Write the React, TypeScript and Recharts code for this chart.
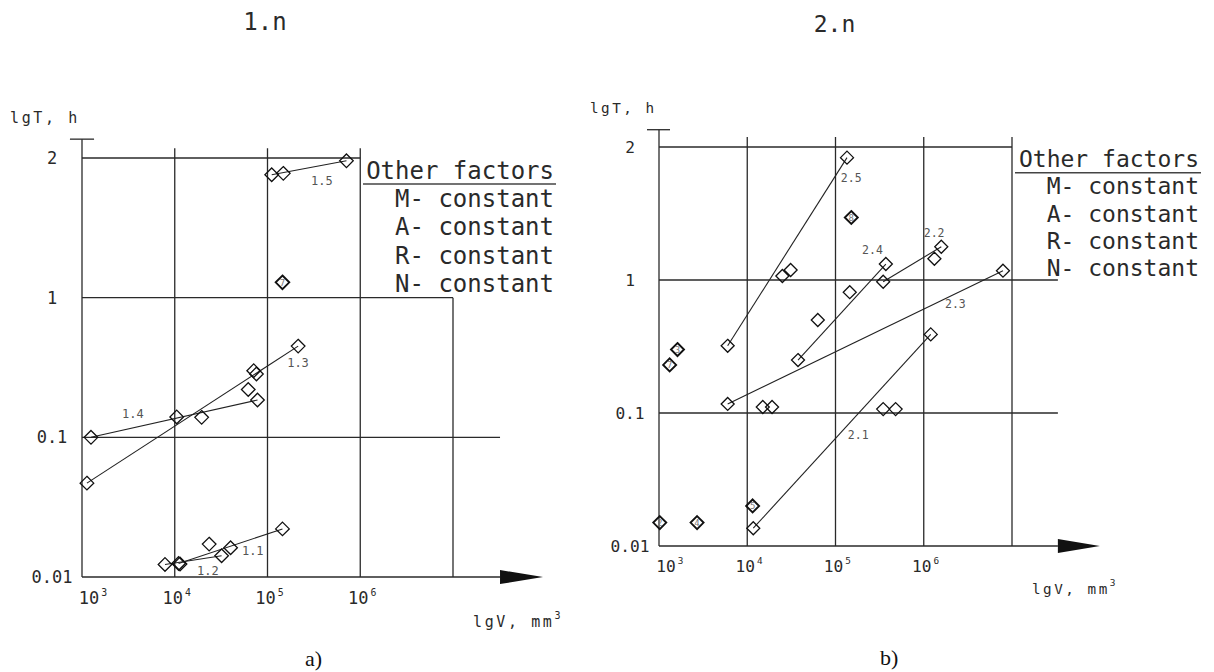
import React from 'react';
import { ScatterChart, Scatter, XAxis, YAxis, ReferenceLine, ReferenceDot } from 'recharts';

type Pt = { v: number; t: number; tag?: string };
type Lbl = { name: string; v: number; t: number };

// axis ticks
const xTicks = [1e3, 1e4, 1e5, 1e6];
const yTicks = [0, 1, 2, 3];
const yTickLabels = ['0.01', '0.1', '1', '2'];
const legendRows = ['M- constant', 'A- constant', 'R- constant', 'N- constant'];

// panel a) 1.n  (v = V, mm3; t = T, h)
const s11: Pt[] = [
  { v: 11000, t: 0.0125 },
  { v: 23500, t: 0.0172 },
  { v: 40000, t: 0.0162 },
  { v: 145000, t: 0.0221 },
];
const s12: Pt[] = [
  { v: 7850, t: 0.0123 },
  { v: 11400, t: 0.0124 },
  { v: 32000, t: 0.0142 },
];
const s13: Pt[] = [
  { v: 1130, t: 0.047 },
  { v: 62000, t: 0.22 },
  { v: 71000, t: 0.3 },
  { v: 76000, t: 0.284 },
  { v: 214000, t: 0.45 },
];
const s14: Pt[] = [
  { v: 1250, t: 0.1 },
  { v: 10500, t: 0.14 },
  { v: 19500, t: 0.139 },
  { v: 78000, t: 0.185 },
];
const s15: Pt[] = [
  { v: 111000, t: 1.88 },
  { v: 148000, t: 1.89 },
  { v: 710000, t: 1.98 },
];
const extraA: Pt[] = [{ v: 145000, t: 1.11, tag: '7' }];
const labelsA: Lbl[] = [
  { name: '1.1', v: 53000, t: 0.01437 },
  { name: '1.2', v: 17400, t: 0.0104 },
  { name: '1.3', v: 163000, t: 0.318 },
  { name: '1.4', v: 2700, t: 0.1374 },
  { name: '1.5', v: 295000, t: 1.807 },
];

// panel b) 2.n
const s21: Pt[] = [
  { v: 11700, t: 0.0136 },
  { v: 1200000, t: 0.39 },
];
const s22: Pt[] = [
  { v: 347000, t: 0.97 },
  { v: 1320000, t: 1.16 },
  { v: 1580000, t: 1.25 },
];
const s23: Pt[] = [
  { v: 6000, t: 0.117 },
  { v: 7900000, t: 1.07 },
];
const s24: Pt[] = [
  { v: 37600, t: 0.25 },
  { v: 63000, t: 0.5 },
  { v: 145000, t: 0.81 },
  { v: 372000, t: 1.12 },
];
const s25: Pt[] = [
  { v: 6000, t: 0.32 },
  { v: 25000, t: 1.03 },
  { v: 31000, t: 1.075 },
  { v: 135000, t: 1.92 },
];
const extraB: Pt[] = [
  { v: 15000, t: 0.111 },
  { v: 19100, t: 0.111 },
  { v: 347000, t: 0.107 },
  { v: 480000, t: 0.107 },
  { v: 1320, t: 0.23, tag: '7' },
  { v: 1620, t: 0.3, tag: '3' },
  { v: 1020, t: 0.015, tag: '2' },
  { v: 2700, t: 0.015, tag: '4' },
  { v: 11500, t: 0.02, tag: '5' },
  { v: 151000, t: 1.47, tag: '8' },
];
const labelsB: Lbl[] = [
  { name: '2.1', v: 138000, t: 0.0638 },
  { name: '2.2', v: 1000000, t: 1.32 },
  { name: '2.3', v: 1740000, t: 0.617 },
  { name: '2.4', v: 200000, t: 1.195 },
  { name: '2.5', v: 115000, t: 1.74 },
];

// position on the T axis: 0.01..1 logarithmic, 1..2 linear
const pos = (t: number) => (t <= 1 ? Math.log10(t) + 2 : t + 1);
const toXY = (p: Pt) => ({ x: p.v, y: pos(p.t), tag: p.tag });
const e10 = (e: number) => Math.pow(10, e);

const INK = '#2a2a2a';
const MONO = '"DejaVu Sans Mono", monospace';

const diamond = (r: number) => (p: any) => {
  const { cx, cy } = p;
  const tag = p.payload?.tag ?? p.tag;
  return (
    <g>
      <polygon
        points={`${cx},${cy - r} ${cx + r},${cy} ${cx},${cy + r} ${cx - r},${cy}`}
        fill="none"
        stroke="#111"
        strokeWidth={tag ? 1.9 : 1.3}
      />
      {tag && (
        <text x={cx} y={cy + 3.5} textAnchor="middle" fontSize={9} fill="#777" fontFamily={MONO}>
          {tag}
        </text>
      )}
    </g>
  );
};

interface PanelCfg {
  left: number;
  width: number;
  margin: { top: number; right: number; bottom: number; left: number };
  series: Pt[][];
  extra: Pt[];
  labels: Lbl[];
  hLines: Array<[number, number]>; // [y position, right end exponent]
  vLines: Array<[number, number]>; // [exponent, top position]
  cap: [number, number, number];
  arrowFrom: number;
  arrowLen: number;
  tickBase: number;
  tickFont: number;
  yLabelX: number;
  r: number;
  labelFont: number;
}

function Panel({ cfg }: { cfg: PanelCfg }) {
  const xTick = (p: any) => {
    const e = Math.round(Math.log10(p.payload.value));
    const cx = p.x + (e === 3 ? 7 : -2);
    return (
      <g fill={INK} fontFamily={MONO}>
        <text x={cx} y={cfg.tickBase} textAnchor="middle" fontSize={cfg.tickFont}>
          10
        </text>
        <text x={cx + cfg.tickFont * 0.72} y={cfg.tickBase - 8} fontSize={cfg.tickFont * 0.58}>
          {e}
        </text>
      </g>
    );
  };
  const yTick = (p: any) => (
    <text
      x={cfg.yLabelX}
      y={p.y + cfg.tickFont * 0.36}
      textAnchor="middle"
      fontSize={cfg.tickFont}
      fontFamily={MONO}
      fill={INK}
    >
      {yTickLabels[yTicks.indexOf(p.payload.value)]}
    </text>
  );
  return (
    <div style={{ position: 'absolute', left: cfg.left, top: 0 }}>
      <ScatterChart width={cfg.width} height={672} margin={cfg.margin}>
        <XAxis
          type="number"
          dataKey="x"
          scale="log"
          domain={[e10(2.8), 1e8]}
          ticks={xTicks}
          interval={0}
          allowDataOverflow
          axisLine={false}
          tickLine={false}
          height={40}
          tick={xTick}
        />
        <YAxis
          type="number"
          dataKey="y"
          domain={[-0.1, 3.3]}
          ticks={yTicks}
          interval={0}
          allowDataOverflow
          axisLine={false}
          tickLine={false}
          width={40}
          tick={yTick}
        />
        {cfg.hLines.map(([y, to], i) => (
          <ReferenceLine
            key={'h' + i}
            segment={[{ x: 1e3, y }, { x: e10(to), y }]}
            stroke={INK}
            strokeWidth={1.3}
            ifOverflow="visible"
          />
        ))}
        {cfg.vLines.map(([e, top], i) => (
          <ReferenceLine
            key={'v' + i}
            segment={[{ x: e10(e), y: 0 }, { x: e10(e), y: top }]}
            stroke={INK}
            strokeWidth={1.3}
            ifOverflow="visible"
          />
        ))}
        <ReferenceLine
          segment={[{ x: e10(cfg.cap[0]), y: cfg.cap[2] }, { x: e10(cfg.cap[1]), y: cfg.cap[2] }]}
          stroke={INK}
          strokeWidth={1.3}
          ifOverflow="visible"
        />
        <ReferenceDot
          x={e10(cfg.arrowFrom)}
          y={0}
          r={0}
          ifOverflow="visible"
          shape={(p: any) => (
            <polygon
              points={`${p.cx},${p.cy - 7} ${p.cx + cfg.arrowLen},${p.cy} ${p.cx},${p.cy + 7}`}
              fill="#111"
            />
          )}
        />
        {cfg.series.map((s, i) => (
          <Scatter
            key={'l' + i}
            data={[toXY(s[0]), toXY(s[s.length - 1])]}
            line={{ stroke: '#222', strokeWidth: 1.1 }}
            shape={() => <g />}
            isAnimationActive={false}
          />
        ))}
        {cfg.series.map((s, i) => (
          <Scatter key={'p' + i} data={s.map(toXY)} shape={diamond(cfg.r)} isAnimationActive={false} />
        ))}
        <Scatter data={cfg.extra.map(toXY)} shape={diamond(cfg.r)} isAnimationActive={false} />
        {cfg.labels.map((l) => (
          <ReferenceDot
            key={l.name}
            x={l.v}
            y={pos(l.t)}
            r={0}
            ifOverflow="visible"
            shape={(p: any) => (
              <text x={p.cx} y={p.cy} fontSize={cfg.labelFont} fontFamily={MONO} fill="#555">
                {l.name}
              </text>
            )}
          />
        ))}
      </ScatterChart>
    </div>
  );
}

const panelA: PanelCfg = {
  left: 0,
  width: 600,
  margin: { top: 116.1, right: 54.25, bottom: 41.03, left: 23.45 },
  series: [s11, s12, s13, s14, s15],
  extra: extraA,
  labels: labelsA,
  hLines: [
    [3, 6],
    [2, 7],
    [1, 7.507],
    [0, 7.507],
  ],
  vLines: [
    [3, 3.135],
    [4, 3.07],
    [5, 3.07],
    [6, 3.07],
    [7, 2],
  ],
  cap: [2.87, 3.13, 3.135],
  arrowFrom: 7.507,
  arrowLen: 43,
  tickBase: 604,
  tickFont: 17,
  yLabelX: 52,
  r: 6.8,
  labelFont: 12,
};

const panelB: PanelCfg = {
  left: 600,
  width: 614,
  margin: { top: 107.1, right: 113.75, bottom: 72.7, left: 1.35 },
  series: [s21, s22, s23, s24, s25],
  extra: extraB,
  labels: labelsB,
  hLines: [
    [3, 7],
    [2, 7.52],
    [1, 7.52],
    [0, 7.52],
  ],
  vLines: [
    [3, 3.13],
    [4, 3.075],
    [5, 3.075],
    [6, 3.075],
    [7, 3.075],
  ],
  cap: [2.864, 3.125, 3.13],
  arrowFrom: 7.52,
  arrowLen: 42,
  tickBase: 572,
  tickFont: 16.2,
  yLabelX: 30,
  r: 6.5,
  labelFont: 11.5,
};

function Legend({ right, top, step, font, uFrom, uTo, uY }: any) {
  return (
    <g fontFamily={MONO} fill={INK} fontSize={font}>
      <text x={right} y={top} textAnchor="end">
        Other factors
      </text>
      <line x1={uFrom} x2={uTo} y1={uY} y2={uY} stroke="#444" strokeWidth={1.5} />
      {legendRows.map((row, i) => (
        <text key={row} x={right} y={top + step * (i + 1)} textAnchor="end" style={{ whiteSpace: 'pre' }}>
          {row}
        </text>
      ))}
    </g>
  );
}

export default function App() {
  return (
    <div style={{ position: 'absolute', left: 0, top: 0, width: 1214, height: 672, background: '#fff' }}>
      <Panel cfg={panelA} />
      <Panel cfg={panelB} />
      <svg
        width={1214}
        height={672}
        style={{ position: 'absolute', left: 0, top: 0, pointerEvents: 'none' }}
      >
        <g fontFamily={MONO} fill={INK}>
          <text x={265} y={30} textAnchor="middle" fontSize={24}>
            1.n
          </text>
          <text x={834.5} y={32} textAnchor="middle" fontSize={23}>
            2.n
          </text>
          <text x={10} y={123} fontSize={15} letterSpacing={2.6} style={{ whiteSpace: 'pre' }}>
            lgT, h
          </text>
          <text x={590} y={113} fontSize={14.3} letterSpacing={2.5} style={{ whiteSpace: 'pre' }}>
            lgT, h
          </text>
          <text x={473} y={627} fontSize={15} letterSpacing={2.6} style={{ whiteSpace: 'pre' }}>
            lgV, mm
            <tspan dy={-8} fontSize={10}>
              3
            </tspan>
          </text>
          <text x={1032} y={594} fontSize={14.3} letterSpacing={2.5} style={{ whiteSpace: 'pre' }}>
            lgV, mm
            <tspan dy={-8} fontSize={9.5}>
              3
            </tspan>
          </text>
        </g>
        <Legend right={554} top={179} step={28.2} font={24} uFrom={363} uTo={556} uY={184} />
        <Legend right={1199} top={167} step={27.3} font={23} uFrom={1015} uTo={1201} uY={172.7} />
        <g fontFamily='"Liberation Serif", serif' fill="#111" fontSize={22}>
          <text x={305} y={666}>
            a)
          </text>
          <text x={880} y={665}>
            b)
          </text>
        </g>
      </svg>
    </div>
  );
}
